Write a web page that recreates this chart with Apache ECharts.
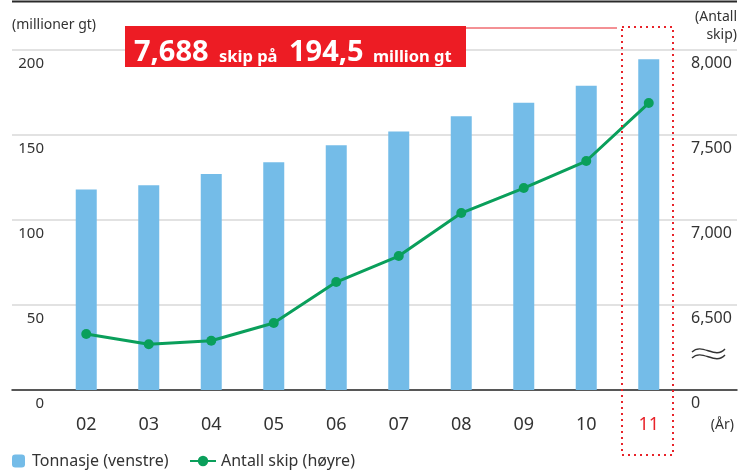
<!DOCTYPE html>
<html><head><meta charset="utf-8">
<script src="https://cdn.jsdelivr.net/npm/echarts@6/dist/echarts.min.js"></script>
<style>html,body{margin:0;padding:0;background:#fff}#c{width:746px;height:472px}</style>
</head><body><div id="c"></div>
<script>
const years = ['02','03','04','05','06','07','08','09','10','11'];
const tonnage = [118, 120.5, 127, 134, 144, 152, 161, 169, 179, 194.5];
const ships = [6329, 6269, 6290, 6394, 6635, 6788, 7041, 7188, 7347, 7688];
const leftTicks = [0, 50, 100, 150, 200];
const rightTicks = [6000, 6500, 7000, 7500, 8000];
const FONT = 'Noto Sans';
const TXT = '#333';
const RED = '#E8232A';

const chart = echarts.init(document.getElementById('c'), null, {renderer:'canvas'});
const fmt = v => v === rightTicks[0] ? '0' : v.toLocaleString('en-US');
chart.setOption({
  animation:false,
  textStyle:{fontFamily:FONT},
  grid:[
    {left:12, right:9, top:50, bottom:82},
    {left:55, right:66, top:50, bottom:82}
  ],
  xAxis:[
    {gridIndex:0, type:'value', min:0, max:1,
     axisLine:{show:true, lineStyle:{color:'#2a2a2a', width:1.5}},
     axisTick:{show:false}, axisLabel:{show:false}, splitLine:{show:false}},
    {gridIndex:1, type:'category', data:years, boundaryGap:true,
     axisLine:{show:false}, axisTick:{show:false},
     axisLabel:{fontSize:18, fontFamily:FONT, margin:26, verticalAlign:'top',
       color:(v)=> v === years[years.length-1] ? RED : TXT}}
  ],
  yAxis:[
    {gridIndex:0, type:'value', min:leftTicks[0], max:leftTicks[leftTicks.length-1], interval:50,
     position:'left', axisLine:{show:false}, axisTick:{show:false},
     splitLine:{show:true, lineStyle:{color:'#E2E2E2', width:2}},
     axisLabel:{inside:true, align:'right', margin:32, fontSize:15, color:TXT, fontFamily:FONT,
       verticalAlign:'top', padding:[6,0,0,0]}},
    {gridIndex:0, type:'value', min:rightTicks[0], max:rightTicks[rightTicks.length-1], interval:500,
     position:'right', axisLine:{show:false}, axisTick:{show:false}, splitLine:{show:false},
     axisLabel:{inside:true, align:'left', margin:46, fontSize:16, color:TXT, fontFamily:FONT,
       verticalAlign:'top', padding:[5,0,0,0], formatter:fmt}},
    {gridIndex:1, type:'value', min:leftTicks[0], max:leftTicks[leftTicks.length-1], show:false},
    {gridIndex:1, type:'value', min:rightTicks[0], max:rightTicks[rightTicks.length-1], show:false}
  ],
  legend:[
    {data:['Tonnasje (venstre)'], left:12, top:453, itemWidth:13, itemHeight:13,
     textStyle:{fontSize:16, color:TXT, fontFamily:FONT, padding:[0,0,0,2]}, padding:0},
    {data:['Antall skip (høyre)'], left:189, top:453, itemWidth:26, itemHeight:13,
     textStyle:{fontSize:16, color:TXT, fontFamily:FONT}, padding:0}
  ],
  series:[
    {name:'Tonnasje (venstre)', type:'bar', xAxisIndex:1, yAxisIndex:2, data:tonnage,
     barWidth:21, itemStyle:{color:'#74BCE8'}, z:2},
    {name:'Antall skip (høyre)', type:'line', xAxisIndex:1, yAxisIndex:3, data:ships,
     symbol:'circle', symbolSize:10, lineStyle:{color:'#0A9F5B', width:3},
     itemStyle:{color:'#0A9F5B'}, z:5}
  ],
  graphic:[
    {type:'line', shape:{x1:12, y1:1.5, x2:737, y2:1.5}, style:{stroke:'#2a2a2a', lineWidth:2}},
    {type:'text', x:12, y:25, style:{text:'(millioner gt)', fontSize:14, fill:TXT, fontFamily:FONT, verticalAlign:'middle'}},
    {type:'text', x:737, y:17, style:{text:'(Antall', fontSize:14, fill:TXT, fontFamily:FONT, align:'right', verticalAlign:'middle'}},
    {type:'text', x:737, y:35, style:{text:'skip)', fontSize:14, fill:TXT, fontFamily:FONT, align:'right', verticalAlign:'middle'}},
    {type:'text', x:734, y:425, style:{text:'(År)', fontSize:14, fill:TXT, fontFamily:FONT, align:'right', verticalAlign:'middle'}},
    {type:'bezierCurve', shape:{x1:692, y1:352, cpx1:702, cpy1:342, cpx2:715, cpy2:360, x2:725, y2:349}, style:{fill:null, stroke:TXT, lineWidth:1.4}},
    {type:'bezierCurve', shape:{x1:692, y1:358, cpx1:702, cpy1:348, cpx2:715, cpy2:366, x2:725, y2:355}, style:{fill:null, stroke:TXT, lineWidth:1.4}},
    {type:'line', z:100, shape:{x1:466, y1:28, x2:617, y2:28}, style:{stroke:RED, lineWidth:1}},
    {type:'rect', z:100, shape:{x:622, y:27, width:51, height:428}, style:{fill:null, stroke:RED, lineWidth:2, lineDash:[2,4]}},
    {type:'rect', z:100, shape:{x:125, y:26, width:341, height:41}, style:{fill:'#ED1C24'}},
    {type:'text', z:101, x:134, y:53, style:{text:'7,688', fontSize:29, fontWeight:'bold', fill:'#fff', fontFamily:FONT, verticalAlign:'middle'}},
    {type:'text', z:101, x:219, y:57, style:{text:'skip på', fontSize:16.5, fontWeight:'bold', fill:'#fff', fontFamily:FONT, verticalAlign:'middle'}},
    {type:'text', z:101, x:289, y:53, style:{text:'194,5', fontSize:29, fontWeight:'bold', fill:'#fff', fontFamily:FONT, verticalAlign:'middle'}},
    {type:'text', z:101, x:373, y:57, style:{text:'million gt', fontSize:16.5, fontWeight:'bold', fill:'#fff', fontFamily:FONT, verticalAlign:'middle'}}
  ]
});
</script></body></html>
